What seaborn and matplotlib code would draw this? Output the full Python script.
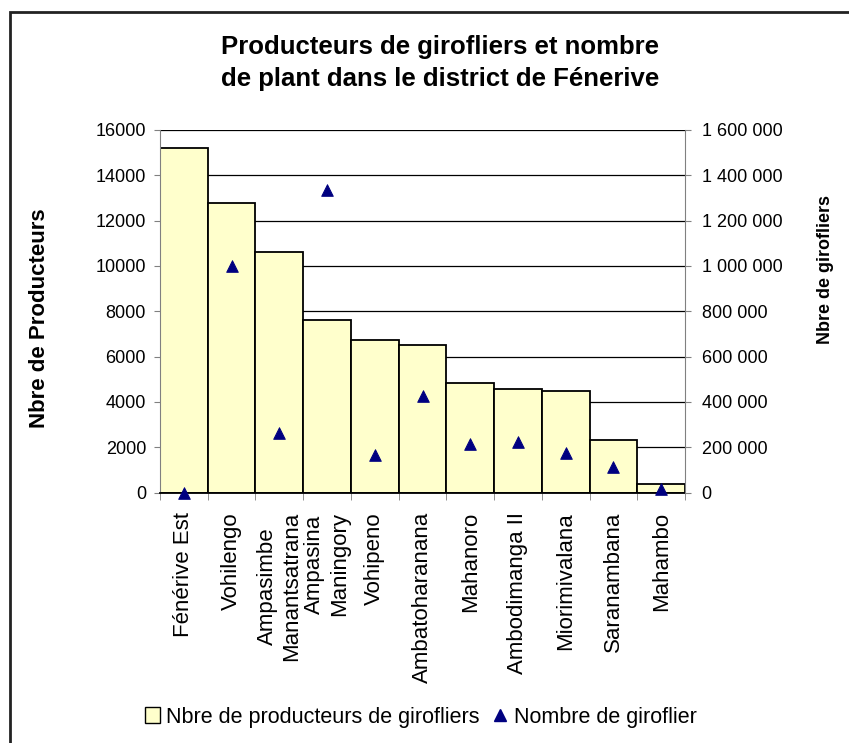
import numpy as np
import pandas as pd
import matplotlib
matplotlib.use("Agg")
import matplotlib.pyplot as plt
from matplotlib.patches import Rectangle
from matplotlib.lines import Line2D
from matplotlib.ticker import FuncFormatter, FixedLocator
import seaborn as sns

## Donnees
communes = ["Fénérive Est", "Vohilengo", "Ampasimbe\nManantsatrana", "Ampasina\nManingory",
            "Vohipeno", "Ambatoharanana", "Mahanoro", "Ambodimanga II",
            "Miorimivalana", "Saranambana", "Mahambo"]
producteurs = [15200, 12800, 10630, 7600, 6750, 6510, 4820, 4570, 4500, 2320, 380]
girofliers = [0, 1000000, 262000, 1335000, 166000, 425000, 214000, 225000, 176000, 114000, 14000]

df = pd.DataFrame({"commune": communes, "producteurs": producteurs, "girofliers": girofliers})

sns.set_style("white")
plt.rcParams["font.family"] = ["Liberation Sans", "DejaVu Sans"]
plt.rcParams["text.color"] = "black"
plt.rcParams["xtick.color"] = "black"
plt.rcParams["ytick.color"] = "black"
plt.rcParams["axes.labelcolor"] = "black"

fig = plt.figure(figsize=(8.49, 7.43), dpi=100)
W, H = 849, 743
ax = fig.add_axes([160 / W, 1 - 492.6 / H, 525 / W, 362.6 / H])

# grille
ax.set_axisbelow(True)
ax.yaxis.grid(True, color="black", linewidth=0.9)

sns.barplot(data=df, x="commune", y="producteurs", ax=ax, color="#FFFFCC",
            edgecolor="black", linewidth=1.3, width=1.0, saturation=1)
ax.set_ylim(0, 16000)
ax.set_yticks(np.arange(0, 16001, 2000))
ax.set_xlim(-0.5, len(communes) - 0.5)
ax.set_xlabel("")
ax.set_ylabel("")

# ticks aux bords des barres
ax.xaxis.set_minor_locator(FixedLocator(np.arange(-0.5, len(communes), 1.0)))
ax.tick_params(axis="x", which="major", length=0, labelsize=16, pad=14, labelrotation=90)
ax.tick_params(axis="x", which="minor", length=5, color="#808080", direction="out", bottom=True)
ax.tick_params(axis="y", length=4, color="#808080", direction="out", labelsize=13, left=True,
               pad=6, labelcolor="black")
for lab in ax.get_xticklabels():
    lab.set_va("top")
    lab.set_ha("center")
    lab.set_multialignment("center")

for s in ["top", "right"]:
    ax.spines[s].set_visible(False)
ax.spines["left"].set_color("#808080")
ax.spines["bottom"].set_color("black")
ax.spines["bottom"].set_linewidth(1.3)

# axe secondaire
ax2 = ax.twinx()
sns.scatterplot(data=df, x="commune", y="girofliers", ax=ax2, marker="^", s=70,
                color="#000080", edgecolor="#000080", zorder=5, clip_on=False)
ax2.set_ylim(0, 1600000)
ax2.set_yticks(np.arange(0, 1600001, 200000))
ax2.yaxis.set_major_formatter(FuncFormatter(lambda v, p: f"{int(v):,}".replace(",", " ")))
ax2.tick_params(axis="y", length=4, color="#808080", direction="out", labelsize=13, right=True,
                pad=8, labelcolor="black")
ax2.set_ylabel("")
ax2.set_xlabel("")
for s in ["top", "left", "bottom"]:
    ax2.spines[s].set_visible(False)
ax2.spines["right"].set_color("#808080")

# titres
fig.text(440 / W, 1 - 63 / H, "Producteurs de girofliers et nombre\nde plant dans le district de Fénerive",
         ha="center", va="center", fontsize=18.5, fontweight="bold", linespacing=1.4)
fig.text(40 / W, 1 - 318 / H, "Nbre de Producteurs", rotation=90, ha="center", va="center",
         fontsize=16, fontweight="bold")
fig.text(825 / W, 1 - 270 / H, "Nbre de girofliers", rotation=90, ha="center", va="center",
         fontsize=13, fontweight="bold")

# legende
handles = [Rectangle((0, 0), 1, 1, facecolor="#FFFFCC", edgecolor="black", linewidth=1),
           Line2D([], [], marker="^", color="#000080", linestyle="none", markersize=9)]
fig.legend(handles, ["Nbre de producteurs de girofliers", "Nombre de giroflier"],
           loc="center", bbox_to_anchor=(421 / W, 1 - 717 / H), ncol=2, frameon=False,
           fontsize=15.5, handlelength=0.7, handleheight=0.7, handletextpad=0.3, columnspacing=0.6)

# cadre du graphique
fig.patches.append(Rectangle((10 / W, -0.5), 2.0, 1.5 - 12 / H, transform=fig.transFigure,
                             fill=False, edgecolor="#222222", linewidth=2))

fig.savefig("out.png", dpi=100)
